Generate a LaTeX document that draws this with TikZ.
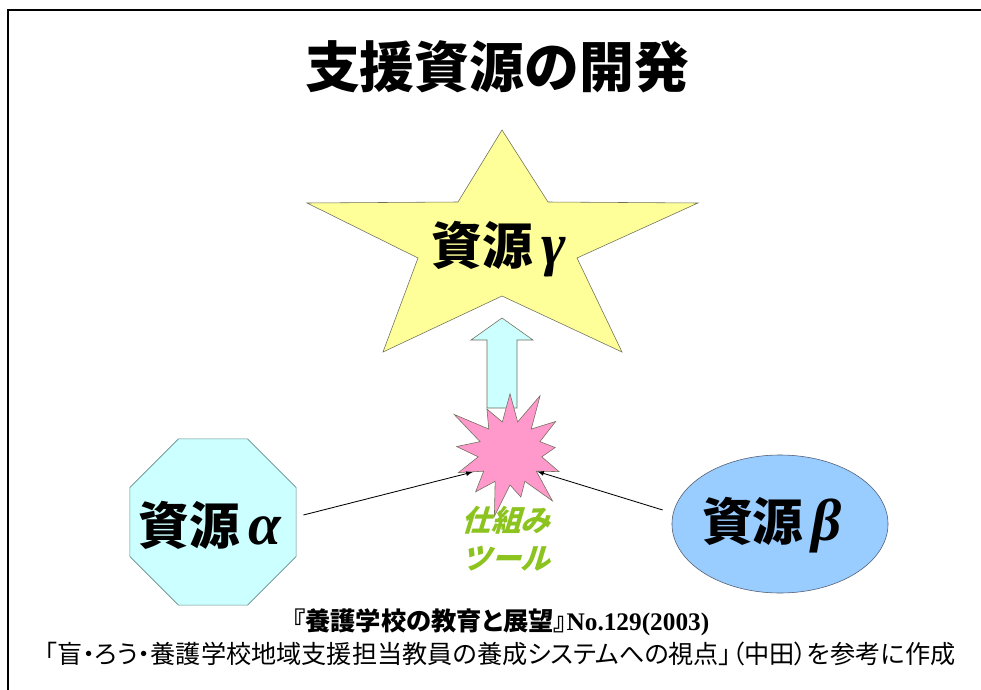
\documentclass[tikz,border=0pt]{standalone}
\usepackage{fontspec}
\setmainfont{Noto Sans CJK JP}
\newfontfamily\jp{Noto Sans CJK JP}
\newfontfamily\jppal{Noto Sans CJK JP}[RawFeature=+palt]
\newfontfamily\jpslant{Noto Sans CJK JP}[FakeSlant=0.3]
\newfontfamily\gk{Liberation Serif}
\usetikzlibrary{shapes.geometric,shapes.symbols}

\definecolor{starfill}{RGB}{255,255,153}
\definecolor{stardraw}{RGB}{110,110,90}
\definecolor{aquafill}{RGB}{204,255,255}
\definecolor{aquadraw}{RGB}{100,140,140}
\definecolor{bluefill}{RGB}{153,204,255}
\definecolor{bluedraw}{RGB}{80,90,110}
\definecolor{pinkfill}{RGB}{255,153,204}
\definecolor{toolgreen}{RGB}{140,195,30}

\begin{document}
\begin{tikzpicture}[x=0.025cm,y=-0.025cm,>=latex,
    bigtext/.style={font=\jp\bfseries\fontsize{36}{36}\selectfont,inner sep=0pt},
    reftext/.style={inner sep=0pt}]
        \fill[white] (0,0) rectangle (981,690);
        \useasboundingbox (0,0) rectangle (981,690);
        \draw[line width=1.4pt] (7,10) -- (981,10);
        \draw[line width=1.4pt] (8,10) -- (8,690);
        \node (title) at (497,67) {\jp\bfseries\fontsize{39}{39}\selectfont 支援資源の開発};
        % star
        \filldraw[fill=starfill,draw=stardraw] (502,130) -- (548,202) -- (698,203) -- (577,258)
          -- (622,352) -- (502,296) -- (383,352) -- (418,258) -- (307,203) -- (458,202) -- cycle;
        \node[bigtext] (gamma) at (499,249) {資源\,{\gk\bfseries\itshape\fontsize{42}{42}\selectfont γ}};
        % block arrow
        \filldraw[fill=aquafill,draw=stardraw] (487,408) -- (487,340) -- (471,340) -- (502,318)
          -- (533,340) -- (517,340) -- (517,408) -- cycle;
        \node[starburst,starburst points=13,starburst point height=0.95cm,
          minimum width=3.5cm,minimum height=3.5cm,fill=pinkfill,draw=stardraw] (tool) at (510,453) {};
        \node[font=\jpslant\bfseries\fontsize{21}{27}\selectfont,text=toolgreen,align=center,inner sep=0pt]
          (tooltext) at (506,539) {仕組み\\ツール};
        % alpha and beta
        \node[regular polygon,regular polygon sides=8,minimum size=4.5cm,fill=aquafill,draw=aquadraw] (alpha) at (213,522) {};
        \node[bigtext] (alphatext) at (210,525) {資源\,{\gk\bfseries\itshape\fontsize{42}{42}\selectfont α}};
        \node[ellipse,minimum width=5.4cm,minimum height=3.45cm,fill=bluefill,draw=bluedraw] (beta) at (780,524) {};
        \node[bigtext] (betatext) at (772,525) {資源\,{\gk\bfseries\itshape\fontsize{42}{42}\selectfont β}};
        \draw[->,semithick] ([shift={(7,-7)}]alpha.east) -- (tool.207);
        \draw[->,semithick] ([shift={(-9,-14)}]beta.west) -- (tool.-34);
        % \draw[->] (tool) -- (gamma);
        \node[reftext] (src) at (501,622) {\jppal\bfseries\fontsize{18}{20}\selectfont 『養護学校の教育と展望』{\gk\bfseries No.129(2003)}};
        \node[reftext] (note) at (500,654) {\jppal\fontsize{17.9}{20}\selectfont 「盲・ろう・養護学校地域支援担当教員の養成システムへの視点」（中田）を参考に作成};
      \end{tikzpicture}
\end{document}
